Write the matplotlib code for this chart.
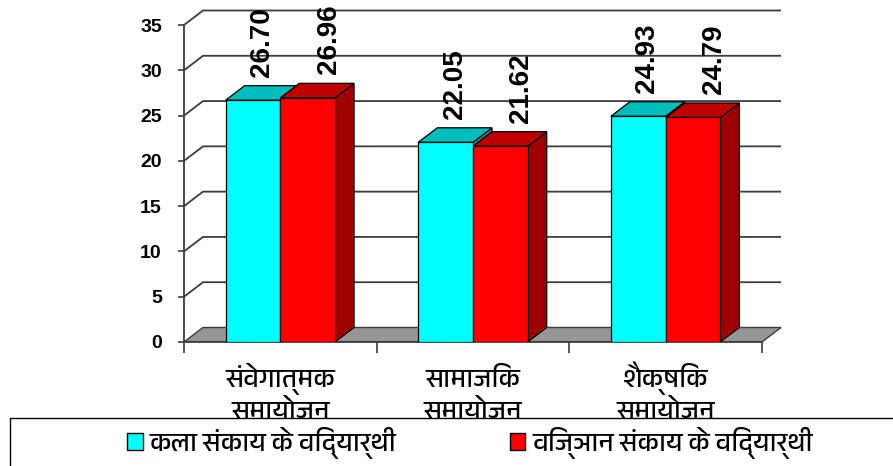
import matplotlib
matplotlib.use("Agg")
import matplotlib.pyplot as plt
from matplotlib import font_manager
from matplotlib.ft2font import FT2Font
from matplotlib.patches import Polygon, Rectangle, Patch

# values
categories = ["संवेगात्मक\nसमायोजन", "सामाजिक\nसमायोजन", "शैक्षिक\nसमायोजन"]
series_names = ["कला संकाय के विद्यार्थी", "विज्ञान संकाय के विद्यार्थी"]
arts = [26.70, 22.05, 24.93]
science = [26.96, 21.62, 24.79]
yticks = [0, 5, 10, 15, 20, 25, 30, 35]


def find_devanagari():
    # look for any installed font that has Devanagari letters
    best = None
    for f in font_manager.fontManager.ttflist:
        try:
            cmap = FT2Font(f.fname).get_charmap()
        except Exception:
            continue
        if 0x0915 in cmap and 0x093F in cmap:
            if "Devanagari" in f.name:
                return f.name
            if best is None:
                best = f.name
    return best


deva = find_devanagari()
hindi_fonts = ([deva] if deva else []) + ["DejaVu Sans"]
num_font = "Liberation Sans"

# face colours: front, top, side
cyan_faces = ["#00FFFF", "#00BEBE", "#009C9C"]
red_faces = ["#FF0000", "#BE0000", "#A00000"]

W, H = 893, 466
fig = plt.figure(figsize=(W / 100, H / 100), dpi=100)

px_x = 192.67   # pixels per category
px_y = 9.057    # pixels per unit
ax_left, ax_bottom = 184, 342
x_max = (W - ax_left) / px_x
y_max = 37
ax = fig.add_axes([ax_left / W, (H - ax_bottom) / H,
                   (W - ax_left) / W, y_max * px_y / H])
ax.set_xlim(0, x_max)
ax.set_ylim(0, y_max)

dx = 19 / px_x   # depth offset
dy = 14.5 / px_y
n = len(categories)
grid_c = "#3c3c3c"

# floor
ax.add_patch(Polygon([(0, 0), (n, 0), (n + dx, dy), (dx, dy)], closed=True,
                     facecolor="#969696", edgecolor=grid_c, lw=1.0, zorder=1))
# back wall grid lines
for v in yticks[1:]:
    ax.plot([0, dx, n + dx], [v, v + dy, v + dy], color=grid_c, lw=1.3,
            zorder=1, solid_capstyle="butt")


def bar3d(x0, w, v, faces):
    front = Rectangle((x0, 0), w, v, facecolor=faces[0], edgecolor="black",
                      lw=0.9, zorder=3)
    top = Polygon([(x0, v), (x0 + w, v), (x0 + w + dx, v + dy), (x0 + dx, v + dy)],
                  closed=True, facecolor=faces[1], edgecolor="black", lw=0.9, zorder=3)
    side = Polygon([(x0 + w, 0), (x0 + w + dx, dy), (x0 + w + dx, v + dy), (x0 + w, v)],
                   closed=True, facecolor=faces[2], edgecolor="black", lw=0.9, zorder=3)
    for p in (side, top, front):
        ax.add_patch(p)


bw = 0.284
for i in range(n):
    c = i + 0.5
    bar3d(c - bw, bw, arts[i], cyan_faces)
    bar3d(c, bw, science[i], red_faces)
    ax.text(c - bw / 2 + 0.047, arts[i] + 2.6, f"{arts[i]:.2f}", rotation=90,
            ha="center", va="bottom", fontsize=20, fontweight="bold",
            family=num_font, zorder=5)
    ax.text(c + bw / 2 + 0.109, science[i] + 2.6, f"{science[i]:.2f}", rotation=90,
            ha="center", va="bottom", fontsize=20, fontweight="bold",
            family=num_font, zorder=5)

# category names, two lines each, baselines at 387 px and 419 px
for i, name in enumerate(categories):
    for j, line in enumerate(name.split("\n")):
        ax.text(i + 0.5, -(45 + 32 * j) / px_y, line, ha="center", va="baseline",
                fontsize=19, family=hindi_fonts, clip_on=False)

# axes lines
for s in ["top", "right"]:
    ax.spines[s].set_visible(False)
ax.spines["left"].set_bounds(0, 35)
ax.spines["bottom"].set_bounds(0, n)
ax.spines["left"].set_color(grid_c)
ax.spines["bottom"].set_color(grid_c)
ax.spines["left"].set_linewidth(1.3)
ax.spines["bottom"].set_linewidth(1.3)
ax.set_yticks(yticks)
ax.set_yticklabels([str(t) for t in yticks], fontsize=14, fontweight="bold",
                   family=num_font)
ax.tick_params(axis="y", length=4, width=1.2, color=grid_c, pad=12)
ax.set_xticks(range(n + 1))
ax.set_xticklabels([])
ax.tick_params(axis="x", which="major", length=8, width=1.2, color=grid_c)

# legend box
fig.patches.append(Rectangle((10 / W, -0.05), 1.0, (H - 418) / H + 0.05,
                             transform=fig.transFigure, facecolor="white",
                             edgecolor="black", lw=1.0, zorder=5))
handles = [Patch(facecolor=cyan_faces[0], edgecolor="black"),
           Patch(facecolor=red_faces[0], edgecolor="black")]
fig.legend(handles, series_names, loc="center left",
           bbox_to_anchor=(127 / W, (H - 443) / H), ncol=2, frameon=False,
           prop={"family": hindi_fonts, "size": 19}, handlelength=0.6,
           handleheight=0.6, handletextpad=0.25, columnspacing=4.3,
           borderaxespad=0, borderpad=0).set_zorder(6)

fig.savefig("out.png", dpi=100)
